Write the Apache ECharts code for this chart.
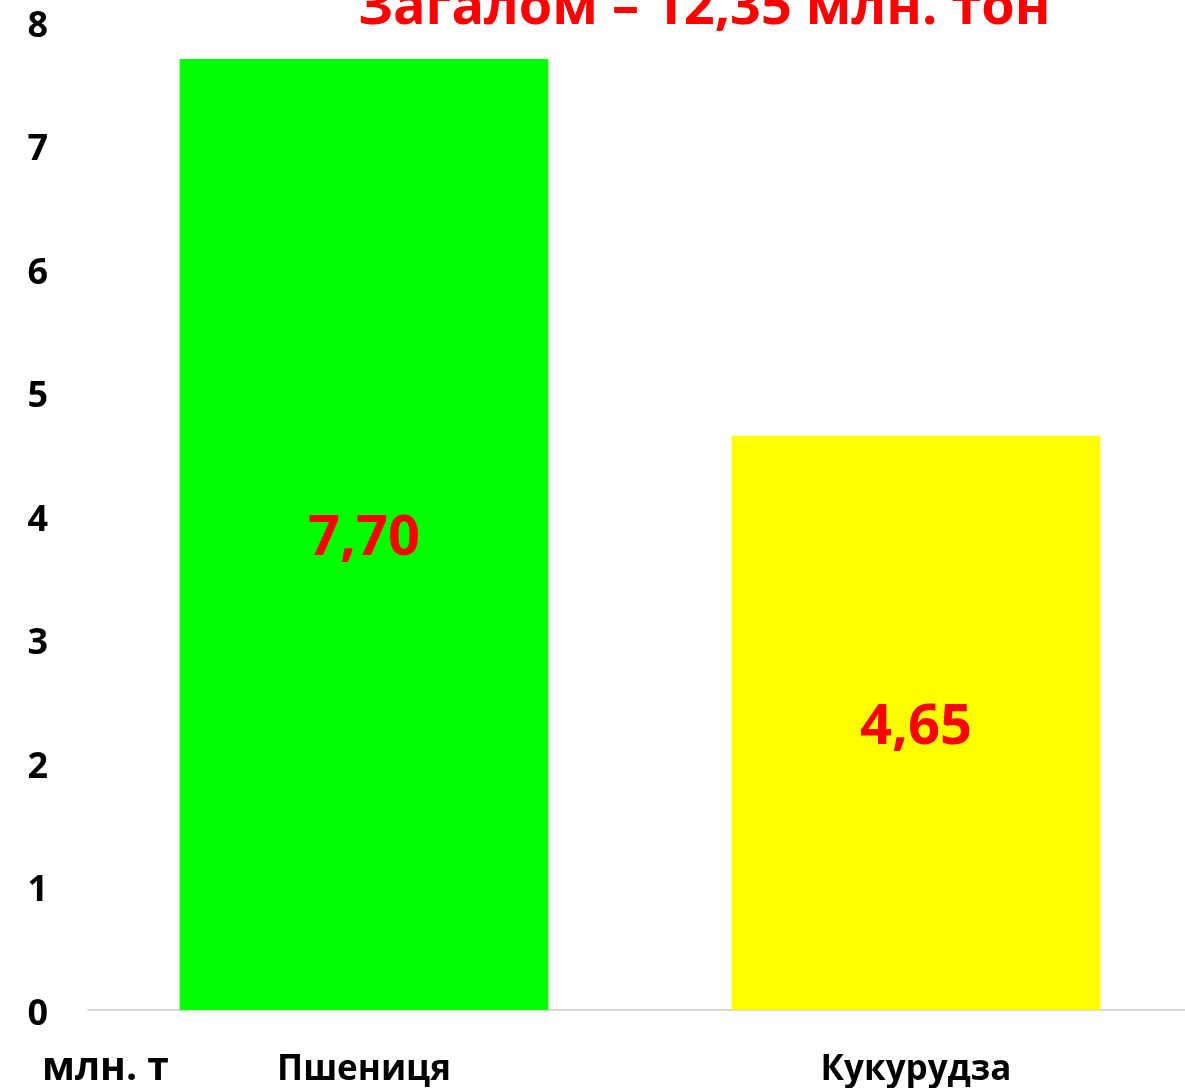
<!DOCTYPE html>
<html>
<head>
<meta charset="utf-8">
<script src="https://cdn.jsdelivr.net/npm/echarts@6/dist/echarts.min.js"></script>
<style>
html,body{margin:0;padding:0;background:#fff;overflow:hidden;}
#chart{width:1192px;height:1088px;}
</style>
</head>
<body>
<div id="chart"></div>
<script>
const categories = ['Пшениця', 'Кукурудза'];
const values = [7.70, 4.65];
const barColors = ['#00ff00', '#ffff00'];
const titleText = 'Загалом – 12,35 млн. тон';
const unitText = 'млн. т';
const yMin = 0, yMax = 8, yStep = 1;

const FONT = '"Open Sans", "Noto Sans", sans-serif';
const chart = echarts.init(document.getElementById('chart'));
chart.setOption({
  animation: false,
  backgroundColor: '#ffffff',
  grid: { left: 88, top: 22, right: 0, bottom: 78, containLabel: false },
  xAxis: {
    type: 'category',
    data: categories,
    axisLine: { show: true, lineStyle: { color: '#d9d9d9', width: 2 } },
    axisTick: { show: false },
    axisLabel: { color: '#000', fontFamily: FONT, fontWeight: 'bold', fontSize: 35, margin: 43 }
  },
  yAxis: {
    type: 'value',
    min: yMin, max: yMax, interval: yStep,
    axisLine: { show: false },
    axisTick: { show: false },
    splitLine: { show: false },
    axisLabel: {
      color: '#000', fontFamily: FONT, fontWeight: 'bold', fontSize: 36, margin: 40,
      formatter: v => '{t|' + v + '}',
      rich: { t: { color: '#000', fontFamily: FONT, fontWeight: 'bold', fontSize: 36, padding: [9, 0, 0, 0] } }
    }
  },
  series: [{
    type: 'bar',
    barWidth: '66.8%',
    data: values.map((v, i) => ({ value: v, itemStyle: { color: barColors[i] } })),
    label: {
      show: true,
      position: 'inside',
      offset: [0, 5],
      color: '#ff0000',
      fontFamily: FONT,
      fontWeight: 'bold',
      fontSize: 56,
      formatter: p => p.value.toFixed(2).replace('.', ',')
    }
  }],
  graphic: [
    {
      type: 'text', left: 358, top: -18,
      style: { text: titleText, fill: '#ff0000', font: 'bold 54px ' + FONT }
    },
    {
      type: 'text', left: 42, top: 1049,
      style: { text: unitText, fill: '#000', font: 'bold 39px ' + FONT }
    }
  ]
});
</script>
</body>
</html>
